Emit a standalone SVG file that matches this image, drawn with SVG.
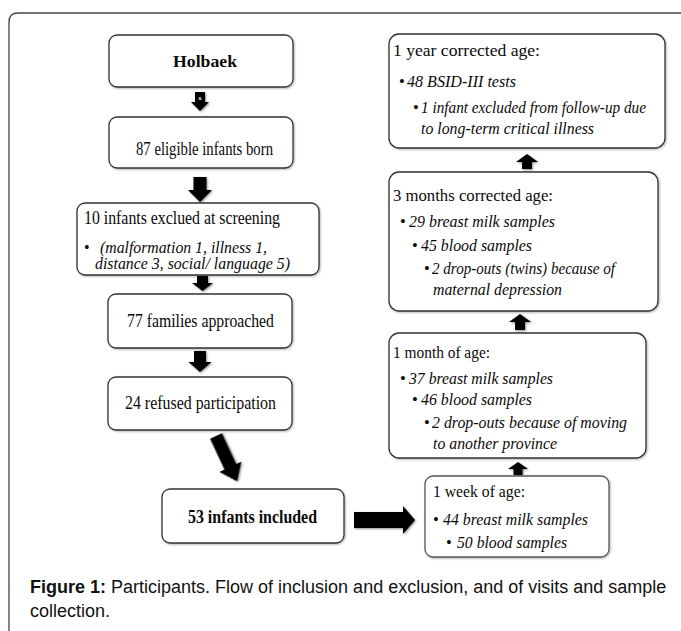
<svg xmlns="http://www.w3.org/2000/svg" width="681" height="631" viewBox="0 0 681 631">
<defs>
<filter id="sh" x="-30%" y="-30%" width="160%" height="160%">
<feGaussianBlur in="SourceAlpha" stdDeviation="1.2"/>
<feOffset dx="0.8" dy="1.2" result="b"/>
<feComponentTransfer><feFuncA type="linear" slope="0.45"/></feComponentTransfer>
<feMerge><feMergeNode/><feMergeNode in="SourceGraphic"/></feMerge>
</filter>
<filter id="bs" x="-5%" y="-5%" width="110%" height="115%">
<feGaussianBlur in="SourceAlpha" stdDeviation="0.8"/>
<feOffset dx="0.5" dy="1" result="b"/>
<feComponentTransfer><feFuncA type="linear" slope="0.3"/></feComponentTransfer>
<feMerge><feMergeNode/><feMergeNode in="SourceGraphic"/></feMerge>
</filter>
</defs>
<style>
.box{fill:#fff;stroke:#333;stroke-width:1.3;filter:url(#bs)}
.lt{stroke:#555}
.t{font-family:"Liberation Serif","Times New Roman",serif;fill:#0a0a0a}
.l{font-size:18px}
.r{font-size:16.5px}
.s{font-size:16px}
.b{font-weight:bold}
.i{font-style:italic}
.arr{fill:#000;filter:url(#sh)}
.cap{font-family:"Liberation Sans",Arial,sans-serif;font-size:18px;fill:#111}
</style>
<rect width="681" height="631" fill="#fff"/>
<path d="M9,640 L9,22 Q9,13 18,13 L690,13" fill="none" stroke="#444" stroke-width="1.3"/>

<g id="connectors">
<polygon class="arr" points="195,92 205,92 205,102 209,102 200,111 191,102 195,102"/>
<text x="200" y="100" text-anchor="middle" font-family="Liberation Sans,sans-serif" font-size="6" font-weight="bold" fill="#fff">s</text>
<polygon class="arr" points="193.5,177 206.5,177 206.5,190 212,190 200,202 188,190 193.5,190"/>
<polygon class="arr" points="197,276 208,276 208,283 213,283 202.5,291 192,283 197,283"/>
<polygon class="arr" points="194,351 206,351 206,362 211.5,362 200,372 188.5,362 194,362"/>
<polygon class="arr" transform="translate(216,436) rotate(-25)" points="-6.5,0 6.5,0 6.5,34 12,34 0,50 -12,34 -6.5,34"/>
<polygon class="arr" points="354,512 403,512 403,506 415,520 403,534 403,528 354,528"/>
<polygon class="arr" points="518,462 528,469 522.5,469 522.5,475 513.5,475 513.5,469 508,469"/>
<polygon class="arr" points="520,314 531,322 525,322 525,330 515,330 515,322 509,322"/>
<polygon class="arr" points="527,154 538,162 532,162 532,169 522,169 522,162 516,162"/>
</g>

<g id="n-holbaek">
<rect class="box" x="109" y="35" width="184" height="52" rx="8"/>
<text class="t b" x="173" y="67" font-size="17" textLength="64" lengthAdjust="spacingAndGlyphs">Holbaek</text>
</g>
<g id="n-eligible">
<rect class="box" x="109" y="117" width="184" height="51" rx="8"/>
<text class="t l" x="136" y="155" textLength="137" lengthAdjust="spacingAndGlyphs">87 eligible infants born</text>
</g>
<g id="n-excluded">
<rect class="box" x="77" y="203" width="242" height="72" rx="8"/>
<text class="t l" x="84" y="224" textLength="196" lengthAdjust="spacingAndGlyphs">10 infants exclued at screening</text>
<text class="t s" x="84" y="253">•</text>
<text class="t s i" x="100" y="253" textLength="167" lengthAdjust="spacingAndGlyphs">(malformation 1, illness 1,</text>
<text class="t s i" x="95" y="269" textLength="195" lengthAdjust="spacingAndGlyphs">distance 3, social/ language 5)</text>
</g>
<g id="n-approached">
<rect class="box" x="108" y="294" width="184" height="54" rx="8"/>
<text class="t l" x="127" y="327" textLength="147" lengthAdjust="spacingAndGlyphs">77 families approached</text>
</g>
<g id="n-refused">
<rect class="box" x="108" y="377" width="184" height="53" rx="8"/>
<text class="t l" x="125" y="409" textLength="151" lengthAdjust="spacingAndGlyphs">24 refused participation</text>
</g>
<g id="n-included">
<rect class="box" x="162" y="489" width="182" height="54" rx="8"/>
<text class="t l b" x="188" y="523" textLength="129" lengthAdjust="spacingAndGlyphs">53 infants included</text>
</g>
<g id="n-week">
<rect class="box lt" x="425" y="476" width="184" height="81" rx="8"/>
<text class="t r" x="433" y="497" textLength="92" lengthAdjust="spacingAndGlyphs">1 week of age:</text>
<text class="t r" x="433" y="525">•</text>
<text class="t r i" x="443" y="525" textLength="145" lengthAdjust="spacingAndGlyphs">44 breast milk samples</text>
<text class="t r" x="446" y="548">•</text>
<text class="t r i" x="457" y="548" textLength="110" lengthAdjust="spacingAndGlyphs">50 blood samples</text>
</g>
<g id="n-month">
<rect class="box" x="389" y="333" width="257" height="125" rx="10"/>
<text class="t r" x="393" y="358" textLength="97" lengthAdjust="spacingAndGlyphs">1 month of age:</text>
<text class="t r" x="400" y="384">•</text>
<text class="t r i" x="409" y="384" textLength="144" lengthAdjust="spacingAndGlyphs">37 breast milk samples</text>
<text class="t r" x="412" y="405">•</text>
<text class="t r i" x="421" y="405" textLength="111" lengthAdjust="spacingAndGlyphs">46 blood samples</text>
<text class="t r" x="424" y="428">•</text>
<text class="t r i" x="432" y="428" textLength="195" lengthAdjust="spacingAndGlyphs">2 drop-outs because of moving</text>
<text class="t r i" x="433" y="449" textLength="124" lengthAdjust="spacingAndGlyphs">to another province</text>
</g>
<g id="n-3months">
<rect class="box" x="389" y="172" width="269" height="139" rx="10"/>
<text class="t r" x="393" y="201" textLength="160" lengthAdjust="spacingAndGlyphs">3 months corrected age:</text>
<text class="t r" x="400" y="227">•</text>
<text class="t r i" x="409" y="227" textLength="146" lengthAdjust="spacingAndGlyphs">29 breast milk samples</text>
<text class="t r" x="412" y="251">•</text>
<text class="t r i" x="421" y="251" textLength="111" lengthAdjust="spacingAndGlyphs">45 blood samples</text>
<text class="t r" x="424" y="274">•</text>
<text class="t r i" x="432" y="274" textLength="183" lengthAdjust="spacingAndGlyphs">2 drop-outs (twins) because of</text>
<text class="t r i" x="433" y="295" textLength="129" lengthAdjust="spacingAndGlyphs">maternal depression</text>
</g>
<g id="n-year">
<rect class="box" x="389" y="34" width="276" height="114" rx="10"/>
<text class="t r" x="393" y="56" textLength="147" lengthAdjust="spacingAndGlyphs">1 year corrected age:</text>
<text class="t r" x="399" y="87">•</text>
<text class="t r i" x="407" y="87" textLength="109" lengthAdjust="spacingAndGlyphs">48 BSID-III tests</text>
<text class="t r" x="413" y="113">•</text>
<text class="t r i" x="421" y="113" textLength="225" lengthAdjust="spacingAndGlyphs">1 infant excluded from follow-up due</text>
<text class="t r i" x="421" y="134" textLength="173" lengthAdjust="spacingAndGlyphs">to long-term critical illness</text>
</g>

<text class="cap" x="30" y="593"><tspan font-weight="bold">Figure 1:</tspan> Participants. Flow of inclusion and exclusion, and of visits and sample</text>
<text class="cap" x="30" y="617">collection.</text>
</svg>
